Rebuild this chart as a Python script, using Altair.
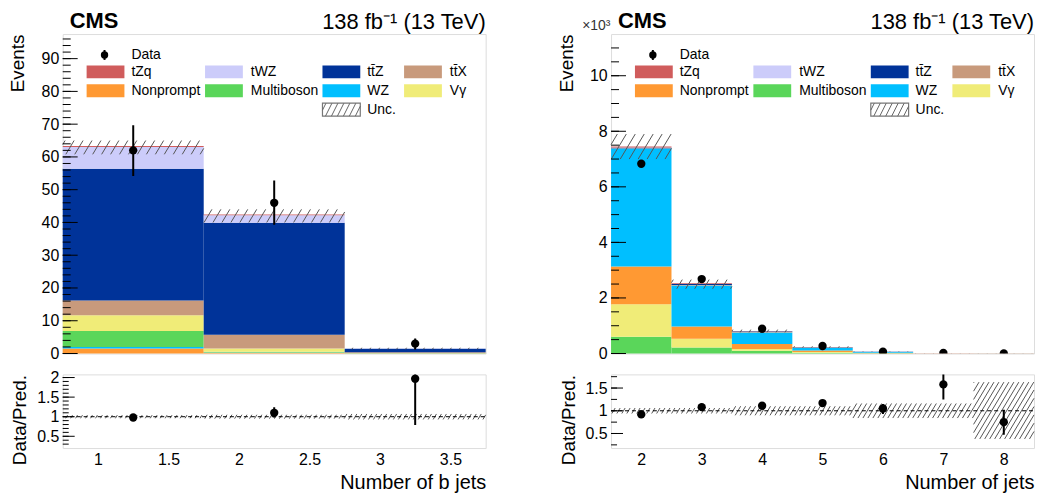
import altair as alt
import pandas as pd
import numpy as np

FONT = "Liberation Sans"

# ---------------- data: number of b jets (left) ----------------
bjet_lo = [0.75, 1.75, 2.75]
bjet_hi = [1.75, 2.75, 3.75]
bjet_centers = [1.25, 2.25, 3.25]
bjet_vals = {
    "Nonprompt": [1.5, 0.2, 0.05],
    "WZ": [0.5, 0.1, 0.02],
    "Multiboson": [4.9, 0.2, 0.05],
    "Vgamma": [4.75, 1.0, 0.05],
    "ttX": [4.55, 4.2, 0.2],
    "ttZ": [40.2, 34.2, 1.05],
    "tWZ": [6.6, 2.3, 0.1],
    "tZq": [0.3, 0.2, 0.02],
}
bjet_order = ["Nonprompt", "WZ", "Multiboson", "Vgamma", "ttX", "ttZ", "tWZ", "tZq"]
bjet_unc_lo = [60.8, 40.0, 1.3]
bjet_unc_hi = [65.0, 44.0, 1.75]
bjet_data = [62, 46, 3]
bjet_data_lo = [54.2, 39.3, 1.2]
bjet_data_hi = [69.7, 52.8, 4.6]
bjet_ratio = [0.98, 1.10, 1.97]
bjet_ratio_lo = [0.92, 0.98, 0.79]
bjet_ratio_hi = [1.05, 1.24, 2.3]
bjet_ratio_unc_lo = [0.96, 0.95, 0.93]
bjet_ratio_unc_hi = [1.04, 1.05, 1.07]

# ---------------- data: number of jets (right), in 10^3 events ----------------
jet_lo = [1.5, 2.5, 3.5, 4.5, 5.5, 6.5, 7.5]
jet_hi = [2.5, 3.5, 4.5, 5.5, 6.5, 7.5, 8.5]
jet_centers = [2, 3, 4, 5, 6, 7, 8]
jet_vals = {
    "Multiboson": [0.60, 0.22, 0.10, 0.030, 0.008, 0.002, 0.001],
    "Vgamma": [1.17, 0.31, 0.06, 0.020, 0.004, 0.001, 0.0003],
    "Nonprompt": [1.36, 0.44, 0.18, 0.060, 0.012, 0.003, 0.001],
    "WZ": [4.25, 1.48, 0.42, 0.100, 0.030, 0.005, 0.002],
    "ttX": [0.01, 0.02, 0.02, 0.006, 0.003, 0.001, 0.0005],
    "ttZ": [0.02, 0.03, 0.02, 0.010, 0.004, 0.0015, 0.0008],
    "tWZ": [0.005, 0.005, 0.004, 0.002, 0.001, 0.0003, 0.0001],
    "tZq": [0.04, 0.02, 0.01, 0.003, 0.001, 0.0002, 0.0001],
}
jet_order = ["Multiboson", "Vgamma", "Nonprompt", "WZ", "ttX", "ttZ", "tWZ", "tZq"]
jet_unc_lo = [7.0, 2.33, 0.76, 0.21, 0.055, 0.011, 0.003]
jet_unc_hi = [7.9, 2.66, 0.86, 0.26, 0.072, 0.016, 0.008]
jet_data = [6.83, 2.68, 0.89, 0.27, 0.065, 0.022, 0.0045]
jet_data_lo = [6.75, 2.63, 0.86, 0.25, 0.057, 0.017, 0.002]
jet_data_hi = [6.91, 2.73, 0.92, 0.29, 0.073, 0.027, 0.007]
jet_ratio = [0.92, 1.08, 1.11, 1.17, 1.05, 1.58, 0.75]
jet_ratio_lo = [0.91, 1.06, 1.08, 1.13, 0.93, 1.25, 0.47]
jet_ratio_hi = [0.93, 1.10, 1.14, 1.21, 1.15, 1.85, 1.02]
jet_ratio_unc_lo = [0.94, 0.94, 0.90, 0.90, 0.84, 0.84, 0.38]
jet_ratio_unc_hi = [1.06, 1.06, 1.10, 1.10, 1.16, 1.16, 1.63]

# ---------------- legend ----------------
legend_keys = ["tZq", "tWZ", "ttZ", "ttX", "Nonprompt", "Multiboson", "WZ", "Vgamma"]
legend_labels = ["tZq", "tWZ", "tt\u0304Z", "tt\u0304X", "Nonprompt", "Multiboson", "WZ", "V\u03b3"]
legend_colors = ["#d05c5c", "#ccccfa", "#003399", "#c89a7c", "#ff9933", "#5ad65a", "#00bfff", "#f0ec78"]

W, H, HR = 425, 321, 74


def stack_frame(lo, hi, order, vals):
    rows = []
    for i in range(len(lo)):
        base = 0.0
        for p in order:
            v = vals[p][i]
            rows.append(dict(xlo=lo[i], xhi=hi[i], process=p, y0=base, y1=base + v))
            base += v
    return pd.DataFrame(rows)


def hatch_lines(x0s, x1s, ylo, yhi, xdom, ydom, w, h, spacing, slant):
    sx = w / (xdom[1] - xdom[0])
    sy = h / (ydom[1] - ydom[0])
    rows = []
    for a, b, lo, hi in zip(x0s, x1s, ylo, yhi):
        px0 = (a - xdom[0]) * sx
        px1 = (b - xdom[0]) * sx
        py0 = max((lo - ydom[0]) * sy, 0)
        py1 = min((hi - ydom[0]) * sy, h)
        if py1 <= py0:
            continue
        kmin = int(np.floor((px0 - slant * py1) / spacing))
        kmax = int(np.ceil((px1 - slant * py0) / spacing))
        for k in range(kmin, kmax + 1):
            c = k * spacing
            ya = max(py0, (px0 - c) / slant)
            yb = min(py1, (px1 - c) / slant)
            if yb - ya < 1e-6:
                continue
            rows.append(dict(xa=xdom[0] + (c + slant * ya) / sx, ya=ydom[0] + ya / sy,
                             xb=xdom[0] + (c + slant * yb) / sx, yb=ydom[0] + yb / sy))
    return pd.DataFrame(rows)


def PX(f):
    return alt.X(f, scale=None, axis=None)


def PY(f):
    return alt.Y(f, scale=None, axis=None)


def legend_layers():
    col_sw = [24, 143, 261, 343]
    col_tx = [69, 189, 306, 389]
    row_y = [38, 57]
    rows = []
    for i, (lab, col) in enumerate(zip(legend_labels, legend_colors)):
        c, r = i % 4, i // 4
        rows.append(dict(sx0=col_sw[c], sx1=col_sw[c] + 38, sy0=row_y[r] - 6.5, sy1=row_y[r] + 6.5,
                         tx=col_tx[c], ty=row_y[r], label=lab, color=col))
    df = pd.DataFrame(rows)
    sw = alt.Chart(df).mark_rect().encode(
        x=PX("sx0:Q"), x2="sx1:Q", y=PY("sy0:Q"), y2="sy1:Q",
        color=alt.Color("color:N", scale=None))
    tx = alt.Chart(df).mark_text(align="left", baseline="middle", font=FONT, fontSize=14).encode(
        x=PX("tx:Q"), y=PY("ty:Q"), text="label:N")
    ddf = pd.DataFrame({"x": [42], "y": [21], "ylo": [16], "yhi": [26], "tx": [69], "label": ["Data"]})
    dpt = alt.Chart(ddf).mark_circle(color="black", opacity=1, size=55).encode(x=PX("x:Q"), y=PY("y:Q"))
    dln = alt.Chart(ddf).mark_rule(color="black", strokeWidth=2).encode(x=PX("x:Q"), y=PY("ylo:Q"), y2="yhi:Q")
    dtx = alt.Chart(ddf).mark_text(align="left", baseline="middle", font=FONT, fontSize=14).encode(
        x=PX("tx:Q"), y=PY("y:Q"), text="label:N")
    udf = pd.DataFrame({"sx0": [261], "sx1": [299], "sy0": [69.5], "sy1": [82.5], "tx": [306], "ty": [76],
                        "label": ["Unc."]})
    ubox = alt.Chart(udf).mark_rect(fill="white", stroke="#777", strokeWidth=1.2).encode(
        x=PX("sx0:Q"), x2="sx1:Q", y=PY("sy0:Q"), y2="sy1:Q")
    hl = hatch_lines([261], [299], [0], [13], (0, 1000), (0, 1000), 1000, 1000, 6, 0.5)
    hl["ya"] = 82.5 - hl["ya"]
    hl["yb"] = 82.5 - hl["yb"]
    uh = alt.Chart(hl).mark_rule(color="#666", strokeWidth=1).encode(
        x=PX("xa:Q"), x2="xb:Q", y=PY("ya:Q"), y2="yb:Q")
    utx = alt.Chart(udf).mark_text(align="left", baseline="middle", font=FONT, fontSize=14).encode(
        x=PX("tx:Q"), y=PY("ty:Q"), text="label:N")
    return [sw, tx, dln, dpt, dtx, ubox, uh, utx]


def tick_layers(major, minor, maj_len, min_len, Y):
    tm = pd.DataFrame({"v": major})
    tn = pd.DataFrame({"v": minor})
    a = alt.Chart(tm).mark_rule(color="black", strokeWidth=1).encode(
        y=Y("v:Q"), x=alt.value(0), x2=alt.value(maj_len))
    b = alt.Chart(tn).mark_rule(color="black", strokeWidth=1).encode(
        y=Y("v:Q"), x=alt.value(0), x2=alt.value(min_len))
    return [a, b]


def main_panel(lo, hi, order, vals, unc_lo, unc_hi, centers, data, dlo, dhi,
               xdom, ydom, ylabels, major, minor, extra_text):
    sdf = stack_frame(lo, hi, order, vals)
    xs = alt.Scale(domain=xdom, nice=False, zero=False)
    ys = alt.Scale(domain=ydom, nice=False, zero=False)
    yaxis = alt.Axis(values=ylabels, ticks=False, domain=False, grid=False, labelFont=FONT,
                     labelFontSize=16, labelPadding=4, labelFlush=False, labelOverlap=False,
                     labelColor="black", title="Events", titleFont=FONT, titleFontSize=19,
                     titleFontWeight="normal", titleAnchor="end", titleX=-35, titleColor="black")

    def X(f):
        return alt.X(f, scale=xs, axis=None)

    def Y(f):
        return alt.Y(f, scale=ys, axis=yaxis)

    bars = alt.Chart(sdf).mark_rect().encode(
        x=X("xlo:Q"), x2="xhi:Q", y=Y("y0:Q"), y2="y1:Q",
        color=alt.Color("process:N", scale=alt.Scale(domain=legend_keys, range=legend_colors), legend=None))
    hdf = hatch_lines(lo, hi, unc_lo, unc_hi, xdom, ydom, W, H, 9, 0.6)
    hatch = alt.Chart(hdf).mark_rule(color="#555", strokeWidth=1).encode(
        x=X("xa:Q"), x2="xb:Q", y=Y("ya:Q"), y2="yb:Q")
    ddf = pd.DataFrame({"x": centers, "y": data, "lo": dlo, "hi": dhi})
    err = alt.Chart(ddf).mark_rule(color="black", strokeWidth=2, clip=True).encode(
        x=X("x:Q"), y=Y("lo:Q"), y2="hi:Q")
    pts = alt.Chart(ddf).mark_circle(color="black", opacity=1, size=70, clip=True).encode(
        x=X("x:Q"), y=Y("y:Q"))
    texts = []
    tdf = pd.DataFrame({"t": ["CMS"]})
    texts.append(alt.Chart(tdf).mark_text(align="left", baseline="alphabetic", font=FONT, fontSize=22,
                                          fontWeight="bold").encode(x=alt.value(7), y=alt.value(-6), text="t:N"))
    ldf = pd.DataFrame({"t": ["138 fb\u207b\u00b9 (13 TeV)"]})
    texts.append(alt.Chart(ldf).mark_text(align="right", baseline="alphabetic", font=FONT, fontSize=22).encode(
        x=alt.value(W), y=alt.value(-5), text="t:N"))
    if extra_text:
        edf = pd.DataFrame({"t": [extra_text]})
        texts.append(alt.Chart(edf).mark_text(align="left", baseline="alphabetic", font=FONT, fontSize=14,
                                              color="#333").encode(x=alt.value(-29), y=alt.value(-4), text="t:N"))
    layers = [bars, hatch, err, pts] + tick_layers(major, minor, 15, 8, Y) + legend_layers() + texts
    return alt.layer(*layers).properties(width=W, height=H)


def ratio_panel(lo, hi, centers, ratio, rlo, rhi, ulo, uhi, xdom, ydom, xlabels, ylabels,
                major, minor, xtitle, hatch_sp):
    xs = alt.Scale(domain=xdom, nice=False, zero=False)
    ys = alt.Scale(domain=ydom, nice=False, zero=False)
    xaxis = alt.Axis(values=xlabels, format="~g", ticks=False, domain=False, grid=False, labelFont=FONT,
                     labelFontSize=16, labelPadding=4, labelFlush=False, labelOverlap=False, labelColor="black",
                     title=xtitle, titleFont=FONT, titleFontSize=20, titleFontWeight="normal",
                     titleAnchor="end", titlePadding=5, titleColor="black")
    yaxis = alt.Axis(values=ylabels, format="~g", ticks=False, domain=False, grid=False, labelFont=FONT,
                     labelFontSize=16, labelPadding=4, labelFlush=False, labelOverlap=False, labelColor="black",
                     title="Data/Pred.", titleFont=FONT, titleFontSize=19, titleFontWeight="normal",
                     titleAnchor="end", titleX=-33, titleColor="black")

    def X(f):
        return alt.X(f, scale=xs, axis=xaxis)

    def Y(f):
        return alt.Y(f, scale=ys, axis=yaxis)

    hdf = hatch_lines(lo, hi, ulo, uhi, xdom, ydom, W, HR, hatch_sp, 0.6)
    hatch = alt.Chart(hdf).mark_rule(color="#555", strokeWidth=1).encode(
        x=X("xa:Q"), x2="xb:Q", y=Y("ya:Q"), y2="yb:Q")
    one = alt.Chart(pd.DataFrame({"v": [1.0]})).mark_rule(color="black", strokeWidth=1, strokeDash=[4, 3]).encode(
        y=Y("v:Q"), x=alt.value(0), x2=alt.value(W))
    rdf = pd.DataFrame({"x": centers, "y": ratio, "lo": rlo, "hi": rhi})
    err = alt.Chart(rdf).mark_rule(color="black", strokeWidth=2, clip=True).encode(
        x=X("x:Q"), y=Y("lo:Q"), y2="hi:Q")
    pts = alt.Chart(rdf).mark_circle(color="black", opacity=1, size=70, clip=True).encode(
        x=X("x:Q"), y=Y("y:Q"))
    layers = [hatch, one, err, pts] + tick_layers(major, minor, 12, 6, Y)
    return alt.layer(*layers).properties(width=W, height=HR)


mainL = main_panel(bjet_lo, bjet_hi, bjet_order, bjet_vals, bjet_unc_lo, bjet_unc_hi, bjet_centers,
                   bjet_data, bjet_data_lo, bjet_data_hi, [0.75, 3.75], [0, 97.5],
                   list(range(0, 100, 10)), list(range(0, 100, 10)), list(range(0, 98, 2)), None)
ratioL = ratio_panel(bjet_lo, bjet_hi, bjet_centers, bjet_ratio, bjet_ratio_lo, bjet_ratio_hi,
                     bjet_ratio_unc_lo, bjet_ratio_unc_hi, [0.75, 3.75], [0.2, 2.08],
                     [1, 1.5, 2, 2.5, 3, 3.5], [0.5, 1, 1.5, 2], [0.5, 1, 1.5, 2],
                     [round(0.3 + 0.1 * i, 2) for i in range(18)], "Number of b jets", 5)

mainR = main_panel(jet_lo, jet_hi, jet_order, jet_vals, jet_unc_lo, jet_unc_hi, jet_centers,
                   jet_data, jet_data_lo, jet_data_hi, [1.5, 8.5], [0, 11.5],
                   [0, 2, 4, 6, 8, 10], [0, 2, 4, 6, 8, 10], [0.5 * i for i in range(23)], "\u00d710\u00b3")
ratioR = ratio_panel(jet_lo, jet_hi, jet_centers, jet_ratio, jet_ratio_lo, jet_ratio_hi,
                     jet_ratio_unc_lo, jet_ratio_unc_hi, [1.5, 8.5], [0.18, 1.8],
                     [2, 3, 4, 5, 6, 7, 8], [0.5, 1, 1.5], [0.5, 1, 1.5],
                     [0.25, 0.5, 0.75, 1, 1.25, 1.5, 1.75], "Number of jets", 5)

chart = alt.concat(mainL, mainR, ratioL, ratioR, columns=2,
                   spacing={"row": 21, "column": 126}, bounds="flush").properties(
    padding={"left": 0, "top": 0, "right": 0, "bottom": 0}
).configure_view(stroke="#333", strokeWidth=1.5).configure(background="white")

chart.save("out.html", embed_options={"renderer": "svg", "actions": False})
